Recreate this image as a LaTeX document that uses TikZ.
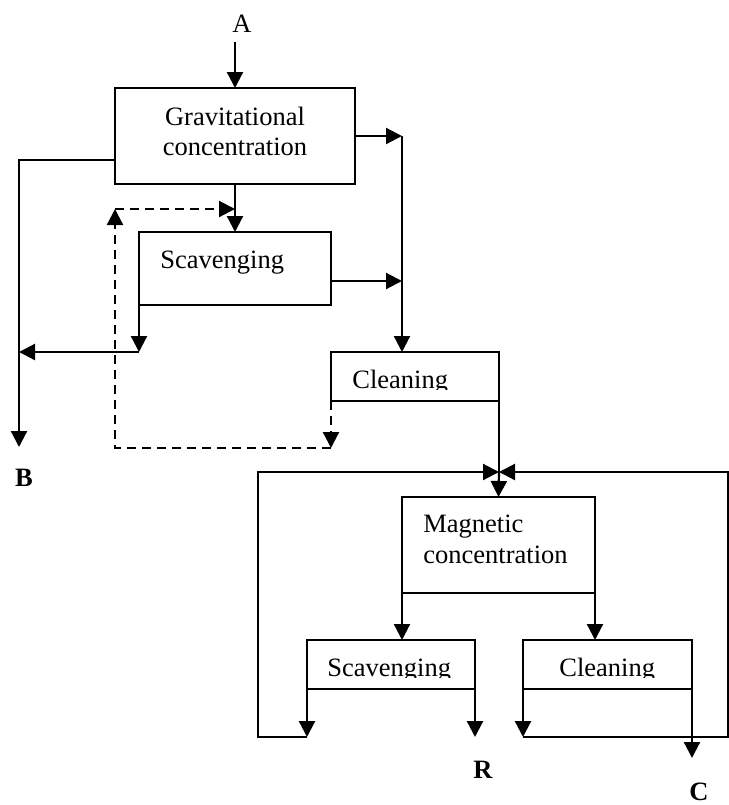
\documentclass[tikz,border=0pt]{standalone}
\usepackage{fontspec}
\setmainfont{Liberation Serif}
\usetikzlibrary{arrows.meta,calc,positioning}

\tikzset{
  box/.style={draw, line width=1.1pt, inner sep=0pt, outer sep=0pt},
  txt/.style={anchor=base west, inner sep=0pt, font=\fontsize{13.25}{15}\selectfont},
  ctxt/.style={anchor=base, inner sep=0pt, font=\fontsize{13.25}{15}\selectfont},
  outlbl/.style={anchor=base, inner sep=0pt, font=\fontsize{13.25}{15}\selectfont\bfseries},
  flow/.style={line width=1.1pt, -{Triangle[length=8pt,width=8pt]}},
  plain/.style={line width=1.1pt},
  back/.style={flow, dash pattern=on 4.5pt off 3pt},
}

\begin{document}
\begin{tikzpicture}[x=0.5pt,y=-0.5pt]
    \useasboundingbox (0,0) rectangle (729,805);
    %Boxes
    \node[box, minimum width=120pt, minimum height=48pt] (grav) at (235,136) {};
    \node[box, minimum width=96pt, minimum height=36.5pt] (scav1) at (235,268.5) {};
    \node[box, minimum width=84pt, minimum height=24.5pt] (clean1) at (415,376.5) {};
    \node[box, minimum width=96.5pt, minimum height=48pt] (magn) at (498.5,545) {};
    \node[box, minimum width=84pt, minimum height=24.5pt] (scav2) at (391,664.5) {};
    \node[box, minimum width=84.5pt, minimum height=24.5pt] (clean2) at (607.5,664.5) {};
    %Box texts
    \node[ctxt] (tgrav1) at (235,125) {Gravitational};
    \node[ctxt] (tgrav2) at (235,155) {concentration};
    \node[txt] (tscav1) at (160,268) {Scavenging};
    \begin{scope}
        \clip (331,352) rectangle (499,389);
        \node[txt] (tclean1) at (352,388) {Cleaning};
    \end{scope}
    \node[txt] (tmagn1) at (423,532) {Magnetic};
    \node[txt] (tmagn2) at (423,563) {concentration};
    \begin{scope}
        \clip (307,640) rectangle (692,677);
        \node[txt] (tscav2) at (327,676) {Scavenging};
        \node[txt] (tclean2) at (559,676) {Cleaning};
    \end{scope}
    %Feed and products
    \node[outlbl, font=\fontsize{13.25}{15}\selectfont] (A) at (242,32) {A};
    \node[outlbl] (B) at (24,486) {B};
    \node[outlbl] (R) at (483,778) {R};
    \node[outlbl] (C) at (699,800) {C};
    %Corners
    \coordinate (a0) at (235,42);
    \coordinate (j1) at (402,136);
    \coordinate (j2) at (402,281);
    \coordinate (b2) at (19,447);
    \coordinate (s1) at (139,352);
    \coordinate (b3) at (19,352);
    \coordinate (d1) at (331,448);
    \coordinate (d2) at (115,448);
    \coordinate (d3) at (115,209);
    \coordinate (d4) at (235,209);
    \coordinate (jm) at (499,472);
    \coordinate (l1) at (258,472);
    \coordinate (l2) at (258,737);
    \coordinate (s2) at (307,737);
    \coordinate (r0) at (475,737);
    \coordinate (c1) at (523,737);
    \coordinate (r1) at (728,737);
    \coordinate (r2) at (728,472);
    \coordinate (c0) at (692,758);
    %Gravitational stage
    \draw[flow] (a0) -- (grav.north);
    \draw[flow] (grav.east) -- (j1);
    \draw[flow] (j1) -- (j1 |- clean1.north);
    \draw[flow] ([yshift=-12pt]grav.west) -| (b2);
    \draw[flow] (grav.south) -- (scav1.north);
    \draw[flow] (scav1.east |- j2) -- (j2);
    \draw[flow] (scav1.south west) -- (s1);
    \draw[flow] (s1) -- (b3);
    %Recycle
    \draw[back] (clean1.south west) -- (d1);
    \draw[back] (d1) -- (d2) -- (d3);
    \draw[back] (d3) -- (d4);
    %Magnetic stage
    \draw[plain] (clean1.south east) -- (jm);
    \draw[flow] (jm) -- (magn.north);
    \draw[flow] (magn.south west) -- (magn.south west |- scav2.north);
    \draw[flow] (magn.south east) -- (magn.south east |- clean2.north);
    \draw[flow] (scav2.south west) -- (s2);
    \draw[flow] (s2) -- (l2) -- (l1) -- (jm);
    \draw[flow] (scav2.south east) -- (r0);
    \draw[flow] (clean2.south west) -- (c1);
    \draw[flow] (c1) -- (r1) -- (r2) -- (jm);
    \draw[flow] (clean2.south east) -- (c0);
\end{tikzpicture}
\end{document}
